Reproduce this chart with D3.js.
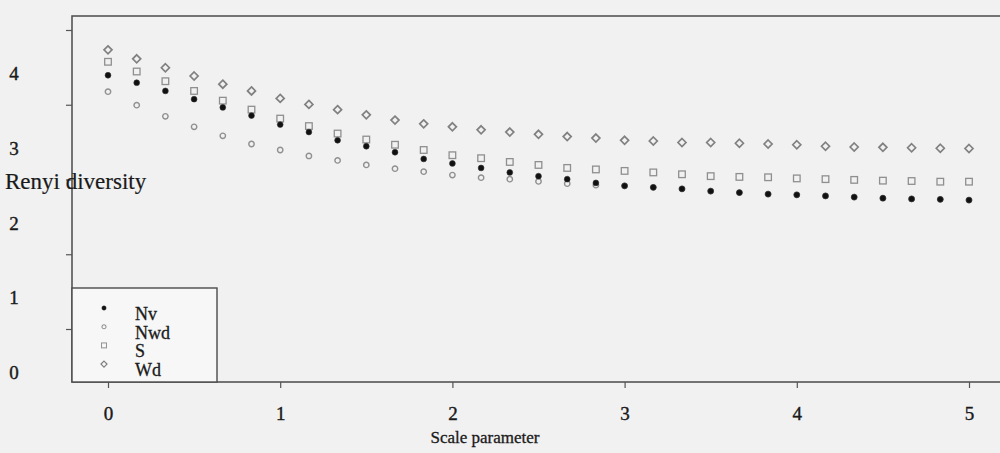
<!DOCTYPE html>
<html>
<head>
<meta charset="utf-8">
<script src="https://cdn.jsdelivr.net/npm/d3@7"></script>
<style>
  html, body { margin: 0; padding: 0; background: #f1f1f1; }
  svg { display: block; }
  text { font-family: "Liberation Serif", "Times New Roman", serif; fill: #1a1a1a; }
</style>
</head>
<body>
<svg id="chart" width="1000" height="453"></svg>
<script>
// ---- data ----
const scaleParam = [0, 0.1667, 0.3333, 0.5, 0.6667, 0.8333, 1, 1.1667, 1.3333, 1.5, 1.6667, 1.8333,
  2, 2.1667, 2.3333, 2.5, 2.6667, 2.8333, 3, 3.1667, 3.3333, 3.5, 3.6667, 3.8333,
  4, 4.1667, 4.3333, 4.5, 4.6667, 4.8333, 5];
const seriesNames = ["Nv", "Nwd", "S", "Wd"];
const Nv = [3.97, 3.87, 3.76, 3.65, 3.54, 3.43, 3.31, 3.21, 3.10, 3.02, 2.94, 2.85,
  2.79, 2.73, 2.67, 2.62, 2.58, 2.53, 2.49, 2.47, 2.45, 2.42, 2.40, 2.38,
  2.37, 2.355, 2.34, 2.325, 2.315, 2.31, 2.30];
const Nwd = [3.75, 3.57, 3.42, 3.28, 3.16, 3.05, 2.97, 2.89, 2.83, 2.77, 2.72, 2.68,
  2.635, 2.60, 2.58, 2.55, 2.52, 2.50, 2.49, 2.47, 2.45, 2.42, 2.40, 2.38,
  2.37, 2.355, 2.34, 2.325, 2.315, 2.31, 2.30];
const S = [4.15, 4.02, 3.89, 3.76, 3.63, 3.51, 3.39, 3.29, 3.19, 3.11, 3.04, 2.97,
  2.90, 2.86, 2.81, 2.77, 2.73, 2.71, 2.69, 2.67, 2.645, 2.62, 2.61, 2.605,
  2.59, 2.58, 2.57, 2.56, 2.555, 2.546, 2.546];
const Wd = [4.31, 4.19, 4.07, 3.96, 3.85, 3.76, 3.66, 3.58, 3.51, 3.44, 3.37, 3.32,
  3.28, 3.24, 3.21, 3.18, 3.15, 3.13, 3.10, 3.09, 3.07, 3.07, 3.06, 3.05,
  3.04, 3.02, 3.01, 3.006, 3.0, 2.993, 2.99];
const xTicks = [0, 1, 2, 3, 4, 5];
const yTicks = [0, 1, 2, 3, 4];
const xTitle = "Scale parameter";
const yTitle = "Renyi diversity";

// ---- drawing ----
const svg = d3.select("#chart");
const x = d3.scaleLinear().domain([0, 5]).range([108, 969]);
const y = d3.scaleLinear().domain([0, 4]).range([372, 73]);
const frame = { left: 72, top: 16, right: 1006, bottom: 382 };

// frame
svg.append("rect")
  .attr("x", frame.left).attr("y", frame.top)
  .attr("width", frame.right - frame.left).attr("height", frame.bottom - frame.top)
  .attr("fill", "none").attr("stroke", "#4a4a4a").attr("stroke-width", 1.5);

// x axis
const xa = svg.append("g").attr("transform", `translate(0,${frame.bottom})`)
  .call(d3.axisBottom(x).tickValues(xTicks).tickSize(6).tickFormat(d3.format("d")));
xa.select(".domain").remove();
xa.selectAll("line").attr("stroke", "#555").attr("stroke-width", 1.2);
xa.selectAll("text").attr("y", 31).attr("dy", "0.35em")
  .style("font-family", "'Liberation Serif', serif").style("font-size", "19px")
  .style("stroke", "#1a1a1a").style("stroke-width", 0.4).attr("fill", "#1a1a1a");

// y axis tick marks (offset as in the scanned figure)
const yaTicks = svg.append("g").attr("transform", `translate(${frame.left},-43)`)
  .call(d3.axisLeft(y).tickValues(yTicks).tickSize(6).tickFormat(""));
yaTicks.select(".domain").remove();
yaTicks.selectAll("line").attr("stroke", "#555").attr("stroke-width", 1.2);

// y axis labels
const yaLabels = svg.append("g").attr("transform", `translate(${frame.left},0)`)
  .call(d3.axisLeft(y).tickValues(yTicks).tickSize(0).tickFormat(d3.format("d")));
yaLabels.select(".domain").remove();
yaLabels.selectAll("text").attr("x", 14 - frame.left).attr("text-anchor", "middle").attr("dy", "0.35em")
  .style("font-family", "'Liberation Serif', serif").style("font-size", "19px")
  .style("stroke", "#1a1a1a").style("stroke-width", 0.4).attr("fill", "#1a1a1a");

// titles
svg.append("text").attr("x", 5).attr("y", 181).attr("dy", "0.35em")
  .style("font-size", "23px").style("stroke", "#1a1a1a").style("stroke-width", 0.2).text(yTitle);
svg.append("text").attr("x", 485).attr("y", 437).attr("dy", "0.35em").attr("text-anchor", "middle")
  .style("font-size", "17px").style("stroke", "#1a1a1a").style("stroke-width", 0.3).text(xTitle);

// symbols
const sym = {
  Nv:  g => g.append("circle").attr("r", 2.9).attr("fill", "#111").attr("stroke", "#333").attr("stroke-width", 0.6),
  Nwd: g => g.append("circle").attr("r", 2.7).attr("fill", "none").attr("stroke", "#909090").attr("stroke-width", 1.4),
  S:   g => g.append("rect").attr("x", -3.3).attr("y", -3.3).attr("width", 6.6).attr("height", 6.6)
            .attr("fill", "none").attr("stroke", "#8f8f8f").attr("stroke-width", 1.3),
  Wd:  g => g.append("path").attr("d", "M0,-4L4,0L0,4L-4,0Z")
            .attr("fill", "none").attr("stroke", "#808080").attr("stroke-width", 1.7)
};
const data = { Nv, Nwd, S, Wd };
["Wd", "S", "Nwd", "Nv"].forEach(name => {
  const g = svg.append("g");
  data[name].forEach((v, i) => {
    const p = g.append("g").attr("transform", `translate(${x(scaleParam[i])},${y(v)})`);
    sym[name](p);
  });
});

// legend
svg.append("rect").attr("x", frame.left).attr("y", 288).attr("width", 217 - frame.left).attr("height", frame.bottom - 288)
  .attr("fill", "#f7f7f7").attr("stroke", "#4a4a4a").attr("stroke-width", 1.4);
seriesNames.forEach((name, i) => {
  const cy = 308 + i * 18.7;
  const p = svg.append("g").attr("transform", `translate(104,${cy}) scale(0.75)`);
  sym[name](p);
  svg.append("text").attr("x", 135).attr("y", cy + 12).style("font-size", "18px")
    .style("stroke", "#1a1a1a").style("stroke-width", 0.3).text(name);
});
</script>
</body>
</html>
